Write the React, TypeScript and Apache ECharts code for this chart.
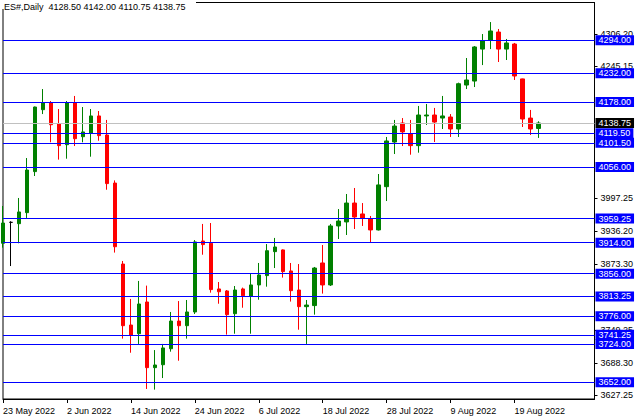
import React, { useEffect, useRef } from "react";
import * as echarts from "echarts";

// Daily ES# bars, 23 May 2022 .. 24 Aug 2022 (weekdays)
const OPEN = [3913.0, 3952.25, 3949.75, 3970.5, 4047.5, 4163.75, 4177.0, 4137.0, 4098.0, 4177.0,
  4113.0, 4119.5, 4152.0, 4116.25, 4026.0, 3874.0, 3759.5, 3743.25, 3802.75, 3679.5,
  3685.0, 3715.0, 3767.0, 3758.25, 3784.0, 3917.25, 3913.0, 3827.25, 3823.5, 3780.75,
  3827.25, 3814.0, 3834.75, 3852.25, 3897.25, 3900.5, 3861.0, 3825.25, 3794.0, 3796.0,
  3876.0, 3834.75, 3945.5, 3953.0, 3988.5, 3968.0, 3958.5, 3938.0, 4019.25, 4103.0,
  4138.75, 4118.75, 4096.25, 4152.0, 4153.75, 4148.0, 4150.0, 4127.5, 4210.0, 4217.5,
  4277.5, 4294.5, 4309.5, 4277.5, 4287.0, 4221.5, 4148.0, 4128.5];
const CLOSE = [3951.0, 3952.25, 3971.75, 4050.5, 4168.75, 4177.0, 4135.5, 4096.25, 4177.0, 4109.25,
  4122.0, 4152.0, 4115.0, 4025.0, 3906.5, 3758.25, 3740.75, 3799.0, 3679.5, 3684.5,
  3716.5, 3767.0, 3758.25, 3784.0, 3915.5, 3910.5, 3826.0, 3822.0, 3779.0, 3825.25,
  3814.5, 3834.75, 3853.5, 3899.0, 3906.0, 3859.75, 3824.0, 3794.0, 3797.0, 3866.5,
  3834.75, 3945.5, 3954.75, 3988.5, 3962.25, 3960.5, 3938.0, 4022.5, 4105.0, 4133.0,
  4122.0, 4096.25, 4153.75, 4153.75, 4140.5, 4152.0, 4127.5, 4212.5, 4219.5, 4281.5,
  4292.75, 4311.5, 4277.5, 4289.0, 4227.0, 4146.25, 4127.5, 4138.75];
const LOW = [3904.75, 3870.25, 3913.0, 3960.5, 4039.25, 4155.5, 4102.5, 4070.0, 4071.75, 4095.5,
  4102.5, 4075.5, 4105.5, 4013.5, 3895.5, 3734.0, 3707.5, 3724.0, 3639.5, 3638.25,
  3660.0, 3709.5, 3692.5, 3734.0, 3780.25, 3891.5, 3820.25, 3799.5, 3741.5, 3743.25,
  3792.0, 3743.25, 3807.0, 3831.5, 3866.5, 3848.5, 3803.5, 3750.75, 3724.0, 3779.0,
  3818.5, 3832.75, 3921.0, 3928.5, 3939.75, 3945.5, 3913.5, 3937.0, 3992.25, 4080.5,
  4095.5, 4079.25, 4083.0, 4135.0, 4103.0, 4127.5, 4112.5, 4112.5, 4202.5, 4206.25,
  4247.5, 4277.5, 4253.25, 4257.0, 4219.5, 4131.25, 4116.25, 4110.75];
const HIGH = [3983.0, 3954.25, 3998.0, 4073.0, 4169.5, 4202.5, 4180.0, 4165.0, 4180.0, 4189.5,
  4168.75, 4165.0, 4161.25, 4144.5, 4031.0, 3879.75, 3808.5, 3842.25, 3833.5, 3712.5,
  3724.0, 3784.0, 3804.5, 3806.5, 3919.0, 3949.25, 3951.0, 3840.25, 3825.25, 3832.75,
  3829.75, 3856.5, 3876.0, 3911.5, 3923.0, 3901.5, 3876.0, 3874.0, 3806.5, 3868.5,
  3909.75, 3949.25, 3977.25, 4005.5, 4016.75, 3988.5, 3964.25, 4043.0, 4112.5, 4144.5,
  4148.0, 4144.5, 4170.75, 4174.5, 4167.0, 4189.5, 4155.5, 4214.5, 4260.75, 4283.25,
  4305.75, 4328.25, 4315.25, 4296.5, 4289.0, 4222.0, 4163.25, 4142.0];

// horizontal levels drawn on the chart
const LEVELS = [4294.0, 4232.0, 4178.0, 4119.5, 4101.5, 4056.0, 3959.25, 3914.0, 3856.0,
  3813.25, 3776.0, 3741.25, 3724.0, 3652.0];
const BID = 4138.75;

// price scale tick labels (right axis)
const Y_TICKS = [4306.2, 4245.15, 3997.25, 3936.2, 3873.3, 3749.25, 3688.3, 3627.25];
const Y_MIN = 3620.65;
const Y_MAX = 4364.95;

const START_DATE = "2022-05-23";
const EMPTY_SLOTS = 7;
const LABEL_EVERY = 8;
const MONTHS = ["Jan", "Feb", "Mar", "Apr", "May", "Jun", "Jul", "Aug", "Sep", "Oct", "Nov", "Dec"];

const TITLE = "ES#,Daily  4128.50 4142.00 4110.75 4138.75";
const FONT = '"Liberation Sans", Arial, sans-serif';

function buildCategories(n: number): string[] {
  const out: string[] = [];
  const d = new Date(START_DATE + "T00:00:00Z");
  while (out.length < n) {
    const wd = d.getUTCDay();
    if (wd !== 0 && wd !== 6) {
      out.push(`${d.getUTCDate()} ${MONTHS[d.getUTCMonth()]} ${d.getUTCFullYear()}`);
    }
    d.setUTCDate(d.getUTCDate() + 1);
  }
  return out;
}

export default function App() {
  const ref = useRef<HTMLDivElement>(null);
  useEffect(() => {
    if (!ref.current) return;
    const chart = echarts.init(ref.current, null, { renderer: "svg" });
    const nBars = OPEN.length;
    const cats = buildCategories(nBars).concat(Array(EMPTY_SLOTS).fill(""));
    const showIdx = (i: number) => i % LABEL_EVERY === 0 && i < nBars;
    const data = OPEN.map((o, i) => [o, CLOSE[i], LOW[i], HIGH[i]]);
    const boxLabel = (bg: string) => ({
      show: true,
      position: "end",
      distance: 1,
      backgroundColor: bg,
      color: "#fff",
      padding: [1, 3, 0, 3],
      fontSize: 9,
      lineHeight: 9,
      fontFamily: FONT,
    });
    const mlData: any[] = [
      {
        yAxis: BID,
        lineStyle: { color: "#c0c0c0", width: 1, type: "solid" },
        label: { ...boxLabel("#000000"), formatter: BID.toFixed(2) },
      },
      ...LEVELS.map((v) => ({
        yAxis: v,
        lineStyle: { color: "#0000ff", width: 1, type: "solid" },
        label: { ...boxLabel("#0000ff"), formatter: v.toFixed(2) },
      })),
    ];
    chart.setOption({
      animation: false,
      backgroundColor: "#ffffff",
      grid: {
        show: true,
        left: 2.5,
        top: 2.5,
        width: 592,
        height: 396.5,
        borderColor: "#000",
        borderWidth: 1,
        backgroundColor: "transparent",
      },
      xAxis: {
        type: "category",
        data: cats,
        boundaryGap: false,
        axisLine: { show: true, lineStyle: { color: "#000", width: 1 } },
        axisTick: { show: true, interval: (i: number) => showIdx(i), length: 4, lineStyle: { color: "#000" } },
        axisLabel: {
          interval: (i: number) => showIdx(i),
          align: "left",
          margin: 7,
          fontSize: 9,
          lineHeight: 9,
          fontFamily: FONT,
          color: "#000",
        },
        splitLine: { show: false },
      },
      yAxis: {
        type: "value",
        position: "right",
        min: Y_MIN,
        max: Y_MAX,
        axisLine: { show: true, lineStyle: { color: "#000", width: 1 } },
        axisTick: { show: true, customValues: Y_TICKS, length: 3, lineStyle: { color: "#000" } },
        axisLabel: {
          customValues: Y_TICKS,
          formatter: (v: number) => v.toFixed(2),
          margin: 6,
          fontSize: 9,
          fontFamily: FONT,
          color: "#000",
        },
        splitLine: { show: false },
      },
      series: [
        {
          type: "candlestick",
          data,
          barWidth: 4,
          itemStyle: {
            color: "#008000",
            color0: "#ff0000",
            borderColor: "#008000",
            borderColor0: "#ff0000",
            borderColorDoji: "#000000",
            borderWidth: 1,
          },
          markLine: {
            silent: true,
            symbol: ["none", "none"],
            z: 5,
            data: mlData,
          },
        },
      ],
      graphic: [
        { type: "rect", shape: { x: 0, y: 0, width: 196, height: 9 }, style: { fill: "#fff" }, z: 100 },
        {
          type: "text",
          x: 4,
          y: 2,
          z: 101,
          style: { text: TITLE, font: `9px ${FONT}`, fill: "#000", textVerticalAlign: "top" },
        },
      ],
    });
    return () => chart.dispose();
  }, []);
  return (
    <div
      ref={ref}
      style={{ position: "fixed", left: 0, top: 0, width: 640, height: 420, background: "#fff" }}
    />
  );
}
